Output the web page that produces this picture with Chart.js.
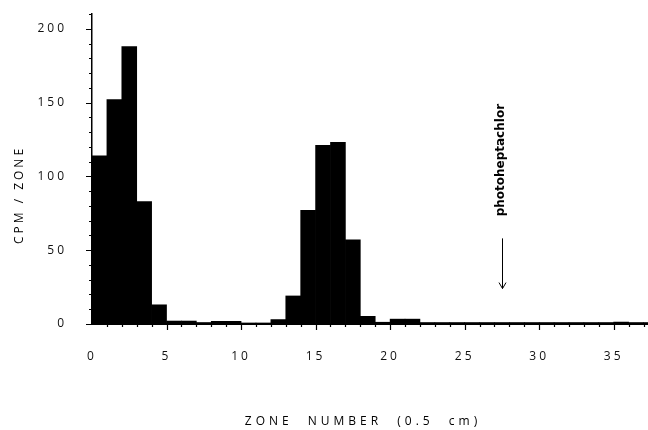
<!DOCTYPE html>
<html><head><meta charset="utf-8">
<script src="https://cdn.jsdelivr.net/npm/chart.js@4.4.1/dist/chart.umd.min.js"></script>
<style>html,body{margin:0;padding:0;background:#fff}#wrap{width:648px;height:430px}</style>
</head><body><div id="wrap"><canvas id="c" width="648" height="430"></canvas></div>
<script>
// zone start numbers (each zone = 0.5 cm)
const zones = [0,1,2,3,4,5,6,7,8,9,10,11,12,13,14,15,16,17,18,19,20,21,22,23,24,25,26,27,28,29,30,31,32,33,34,35,36,37];
// CPM per zone
const cpmPerZone = [114,152,188,83,13,2,2,1,1.8,1.8,0.7,0.7,3,19,77,121,123,57,5.2,1.2,3.3,3.3,1,1,1,1,1,1,1,1,1,1,1,1,1,1.3,1,1];
const yMajorTicks = [0,50,100,150,200];
const xMajorTicks = [0,5,10,15,20,25,30,35];
const yTitle = 'CPM / ZONE';
const xTitle = 'ZONE NUMBER (0.5 cm)';
const markerLabel = 'photoheptachlor';
const markerZone = 27.5;
const markerLabelCenter = 111;
const markerArrowFrom = 58;
const markerArrowTo = 24;

const FONT = "'Open Sans', 'DejaVu Sans', sans-serif";

const decor = {
  id: 'decor',
  beforeDraw(chart) { chart.ctx.letterSpacing = '3px'; },
  afterDraw(chart) {
    const {ctx, chartArea: a, scales: {x, y}} = chart;
    ctx.save();
    ctx.letterSpacing = '0px';
    ctx.strokeStyle = '#000';
    ctx.lineWidth = 1.2;
    ctx.beginPath();
    y.ticks.forEach(t => {
      if (t.value % 1 !== 0) return;
      const py = Math.round(y.getPixelForValue(t.value)) + 0.5;
      const len = yMajorTicks.includes(t.value) ? 6 : 3;
      ctx.moveTo(a.left - len, py); ctx.lineTo(a.left, py);
    });
    x.ticks.forEach(t => {
      if (t.value % 1 !== 0 || t.value === 0) return;
      const px = Math.round(x.getPixelForValue(t.value)) + 0.5;
      const len = xMajorTicks.includes(t.value) ? 6 : 3;
      ctx.moveTo(px, a.bottom); ctx.lineTo(px, a.bottom + len);
    });
    ctx.stroke();

    // marker arrow
    const mx = Math.round(x.getPixelForValue(markerZone)) + 0.5;
    const y1 = y.getPixelForValue(markerArrowFrom), y2 = y.getPixelForValue(markerArrowTo);
    ctx.lineWidth = 1;
    ctx.beginPath();
    ctx.moveTo(mx, y1); ctx.lineTo(mx, y2);
    ctx.moveTo(mx - 3.5, y2 - 6); ctx.lineTo(mx, y2); ctx.lineTo(mx + 3.5, y2 - 6);
    ctx.stroke();

    ctx.fillStyle = '#000';
    // marker label
    ctx.save();
    ctx.translate(mx - 2, y.getPixelForValue(markerLabelCenter));
    ctx.rotate(-Math.PI / 2);
    ctx.font = "bold 12px 'DejaVu Sans', sans-serif";
    ctx.letterSpacing = '0px';
    ctx.textAlign = 'center'; ctx.textBaseline = 'middle';
    ctx.fillText(markerLabel, 0, 0);
    ctx.restore();

    // y title
    ctx.save();
    ctx.translate(20, (a.top + a.bottom) / 2 + 26);
    ctx.rotate(-Math.PI / 2);
    ctx.font = "12px " + FONT;
    ctx.letterSpacing = '3px';
    ctx.textAlign = 'center'; ctx.textBaseline = 'middle';
    ctx.fillText(yTitle, 0, 0);
    ctx.restore();

    // x title
    ctx.font = "12px " + FONT;
    ctx.letterSpacing = '4px';
    ctx.wordSpacing = '8px';
    ctx.textAlign = 'center'; ctx.textBaseline = 'middle';
    ctx.fillText(xTitle, (a.left + a.right) / 2 - 7, a.bottom + 98);
    ctx.restore();
  }
};

new Chart(document.getElementById('c'), {
  type: 'bar',
  data: {
    datasets: [{
      data: zones.map((z, i) => ({x: z + 0.5, y: cpmPerZone[i]})),
      backgroundColor: '#000',
      borderWidth: 0,
      barPercentage: 1,
      categoryPercentage: 1
    }]
  },
  options: {
    responsive: false,
    devicePixelRatio: 1,
    animation: false,
    layout: {padding: {top: 14, right: 0, left: 0, bottom: 0}},
    plugins: {legend: {display: false}, tooltip: {enabled: false}},
    scales: {
      x: {
        type: 'linear', min: 0, max: 37.3, offset: false,
        grid: {display: true, drawOnChartArea: false, drawTicks: false},
        border: {display: true, color: '#000', width: 2},
        ticks: {
          stepSize: 1, autoSkip: false, maxRotation: 0, includeBounds: false,
          padding: 25, color: '#111', font: {family: FONT, size: 12},
          callback: v => xMajorTicks.includes(v) ? String(v) : ''
        },
        afterFit: s => { s.height = 106; s.paddingLeft = 0; s.paddingRight = 0; }
      },
      y: {
        min: 0, max: 210,
        grid: {display: true, drawOnChartArea: false, drawTicks: false},
        border: {display: true, color: '#000', width: 1.5},
        ticks: {
          stepSize: 10, autoSkip: false, includeBounds: false,
          padding: 25, color: '#111', font: {family: FONT, size: 12},
          callback: v => yMajorTicks.includes(v) ? String(v) : ''
        },
        afterFit: s => { s.width = 92; s.paddingTop = 0; s.paddingBottom = 0; }
      }
    }
  },
  plugins: [decor]
});
</script></body></html>
